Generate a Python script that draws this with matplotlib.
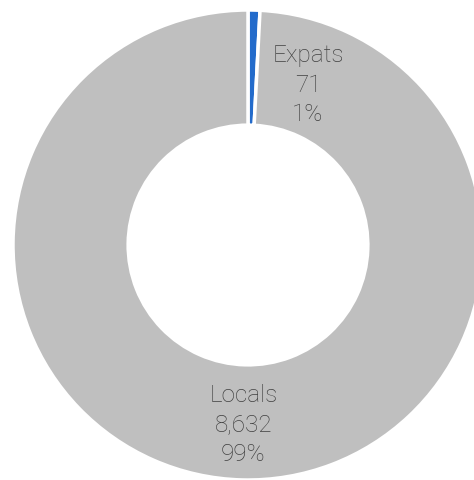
import matplotlib.pyplot as plt

labels = ["Expats", "Locals"]
counts = [71, 8632]
colors = ["#236BCB", "#BFBFBF"]

plt.rcParams['font.family'] = ['Roboto', 'DejaVu Sans']

fig = plt.figure(figsize=(4.74, 4.8), dpi=100)
ax = fig.add_axes([0, 0, 1, 1])

ax.pie(counts, colors=colors, startangle=90, counterclock=False, radius=1.0,
       wedgeprops=dict(width=0.49, edgecolor="white", linewidth=2.5))

total = sum(counts)
text_pos = [(0.255, 0.68), (-0.02, -0.766)]
for lab, c, (tx, ty) in zip(labels, counts, text_pos):
    pct = round(100 * c / total)
    ax.text(tx, ty, f"{lab}\n{c:,}\n{pct}%", ha="center", va="center",
            fontsize=17.5, fontweight="light", color="#404040", linespacing=1.35)

px = 235.0
ax.set_xlim(-248 / px, (474 - 248) / px)
ax.set_ylim(-(480 - 245) / px, 245 / px)
ax.set_aspect("equal")
ax.axis("off")

fig.savefig("out.png", dpi=100)
